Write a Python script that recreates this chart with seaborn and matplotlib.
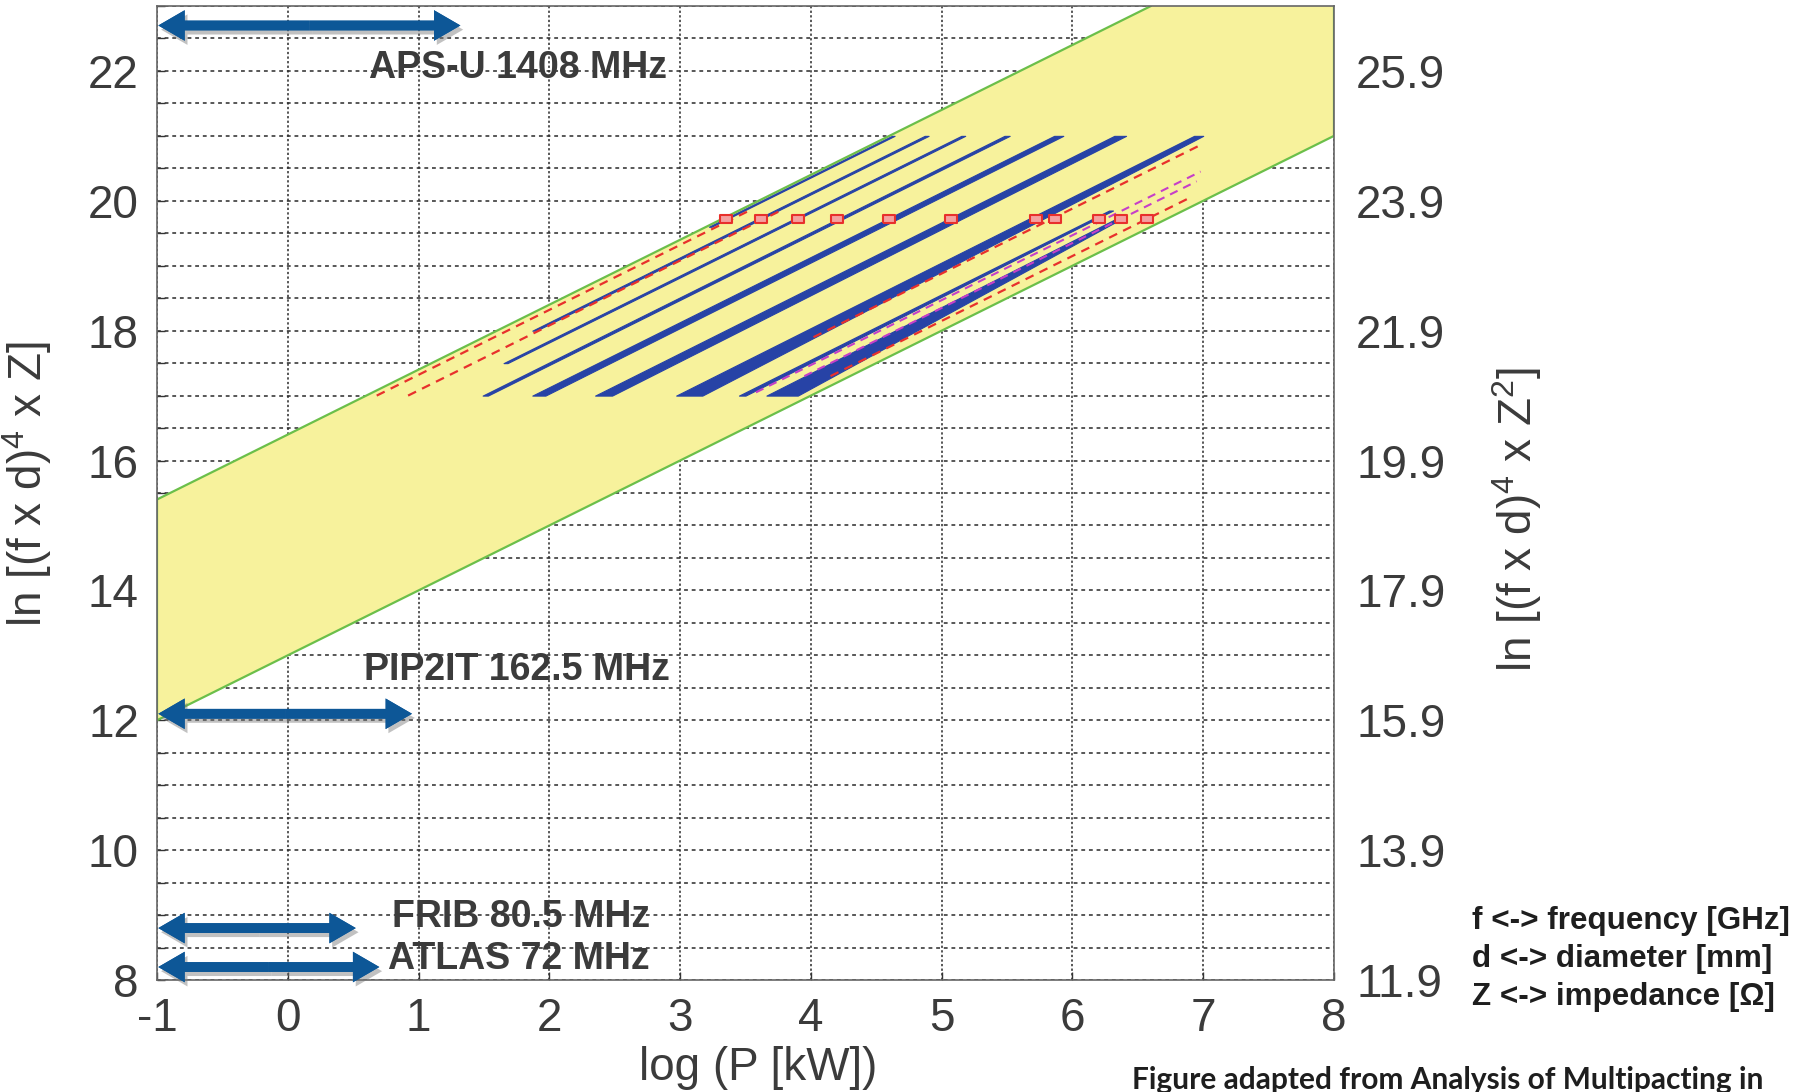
import numpy as np
import pandas as pd
import matplotlib
matplotlib.use("Agg")
import matplotlib.pyplot as plt
import matplotlib.patheffects as pe
from matplotlib import font_manager
from matplotlib.font_manager import FontProperties
import seaborn as sns

# ---------------- data ----------------
x_ticks = [-1, 0, 1, 2, 3, 4, 5, 6, 7, 8]
y_left_ticks = [8, 10, 12, 14, 16, 18, 20, 22]
y_right_labels = ["11.9", "13.9", "15.9", "17.9", "19.9", "21.9", "23.9", "25.9"]
right_offset = 3.9

# yellow accessible band (parallelogram)
band_x = [-1.0, 6.6, 8.0]
band_low = [12.0, 19.6, 21.0]
band_high = [15.4, 23.0, 23.0]

# blue multipacting bands: y start/end and left/right x at each end
blue_y0 = [19.6, 18.0, 17.5, 17.0, 17.0, 17.0, 17.0, 17.0, 17.0]
blue_y1 = [21.0, 21.0, 21.0, 21.0, 21.0, 21.0, 21.0, 19.85, 19.75]
blue_xl0 = [3.22, 1.87, 1.65, 1.49, 1.87, 2.35, 2.97, 3.45, 3.66]
blue_xr0 = [3.24, 1.90, 1.68, 1.53, 1.97, 2.48, 3.17, 3.50, 3.90]
blue_xl1 = [4.62, 4.87, 5.15, 5.48, 5.86, 6.32, 6.93, 6.28, 6.36]
blue_xr1 = [4.64, 4.90, 5.18, 5.52, 5.93, 6.41, 7.00, 6.31, 6.40]

# red dashed lines (start/end points)
red_x0 = [0.68, 0.92, 4.02, 4.15]
red_y0 = [17.0, 17.0, 17.9, 17.3]
red_x1 = [3.55, 3.77, 6.97, 6.90]
red_y1 = [19.87, 19.85, 20.85, 20.05]

# magenta dashed lines
mag_x0 = [3.58, 3.95]
mag_y0 = [17.05, 17.3]
mag_x1 = [6.98, 6.95]
mag_y1 = [20.45, 20.30]

# red square markers
mark_x = [3.35, 3.62, 3.90, 4.20, 4.60, 5.07, 5.72, 5.87, 6.20, 6.37, 6.57]
mark_y = [19.72] * len(mark_x)

# machines: arrow y, arrow ends x, label text, label x, label y
mach_names = ["APS-U 1408 MHz", "PIP2IT 162.5 MHz", "FRIB 80.5 MHz", "ATLAS 72 MHz"]
arrow_y = [22.7, 12.1, 8.8, 8.2]
arrow_x0 = [-0.99, -0.99, -0.99, -0.99]
arrow_x1 = [1.32, 0.95, 0.52, 0.70]
label_x = [0.62, 0.58, 0.80, 0.77]
label_y = [22.05, 12.77, 8.97, 8.33]

legend_lines = ["f <-> frequency [GHz]", "d <-> diameter [mm]", "Z <-> impedance [Ω]"]

# ---------------- style ----------------
sns.set_theme(style="white")
plt.rcParams["font.family"] = ["Liberation Sans", "DejaVu Sans"]
plt.rcParams["mathtext.fontset"] = "custom"
plt.rcParams["mathtext.rm"] = "Liberation Sans"
plt.rcParams["mathtext.default"] = "rm"

try:
    font_manager.findfont(FontProperties(family="Liberation Sans Narrow", weight="bold"),
                          fallback_to_default=False)
    lab_family, lab_size = ["Liberation Sans Narrow", "Liberation Sans"], 31
except Exception:
    lab_family, lab_size = ["Liberation Sans"], 27

W, H = 1798, 1092
fig = plt.figure(figsize=(W / 100, H / 100), dpi=100)
ax = fig.add_axes([157 / W, 1 - 980 / H, (1334 - 157) / W, (980 - 6) / H])

TXT = "#3b3b3b"
YELLOW = "#f7f29c"
GREEN = "#6bbf4a"
BLUE = "#2743a6"
RED = "#e8302c"
MAG = "#c63fc8"
ARROW = "#0d5797"

# yellow band
ax.fill_between(band_x, band_low, band_high, facecolor=YELLOW, edgecolor="none", zorder=1)
edge = pd.DataFrame({"x": [-1.0, -1.0] + band_x[:2], "y": [band_low[0], band_high[0]] + band_high[:2]})
sns.lineplot(data=edge, x="x", y="y", sort=False, estimator=None, color=GREEN, lw=1.6, ax=ax, zorder=1.2)
low = pd.DataFrame({"x": band_x, "y": band_low})
sns.lineplot(data=low, x="x", y="y", sort=False, estimator=None, color=GREEN, lw=1.6, ax=ax, zorder=1.2)
ax.plot([band_x[-1], band_x[-1]], [band_low[-1], band_high[-1]], color=GREEN, lw=1.6, zorder=1.2)

# blue bands
for y0, y1, xl0, xr0, xl1, xr1 in zip(blue_y0, blue_y1, blue_xl0, blue_xr0, blue_xl1, blue_xr1):
    ax.fill_betweenx([y0, y1], [xl0, xl1], [xr0, xr1], facecolor=BLUE, edgecolor=BLUE,
                     lw=0.8, zorder=3)

# dashed lines
for x0, y0, x1, y1 in zip(red_x0, red_y0, red_x1, red_y1):
    sns.lineplot(x=[x0, x1], y=[y0, y1], estimator=None, color=RED, lw=1.6, ax=ax, zorder=4,
                 dashes=False).lines[-1].set_dashes((4, 3))
for x0, y0, x1, y1 in zip(mag_x0, mag_y0, mag_x1, mag_y1):
    sns.lineplot(x=[x0, x1], y=[y0, y1], estimator=None, color=MAG, lw=1.5, ax=ax, zorder=4,
                 dashes=False).lines[-1].set_dashes((4, 3))

rect = [(-1.6, -1), (1.6, -1), (1.6, 1), (-1.6, 1), (-1.6, -1)]
sns.scatterplot(x=mark_x, y=mark_y, marker=rect, s=85, facecolor="#f4a0a0",
                edgecolor=RED, linewidth=1.5, ax=ax, zorder=5)

# arrows
shadow = [pe.withSimplePatchShadow(offset=(2, -3), shadow_rgbFace="#777777", alpha=0.45), pe.Normal()]
for y, x0, x1 in zip(arrow_y, arrow_x0, arrow_x1):
    xm = (x0 + x1) / 2
    for xe in (x0, x1):
        a = ax.annotate("", xy=(xe, y), xytext=(xm, y),
                        arrowprops=dict(arrowstyle="simple,head_length=0.95,head_width=1.1,tail_width=0.35",
                                        mutation_scale=20, color=ARROW, lw=0,
                                        shrinkA=0, shrinkB=0), zorder=6)
        a.arrow_patch.set_path_effects(shadow)

for t, lx, ly in zip(mach_names, label_x, label_y):
    ax.text(lx, ly, t, family=lab_family, fontsize=lab_size, fontweight="bold",
            color=TXT, ha="left", va="center", zorder=7)

# axes, ticks, grid
ax.set_xlim(-1, 8)
ax.set_ylim(8, 23)
ax.set_xticks(x_ticks)
ax.set_yticks(y_left_ticks)
ax.set_yticks(np.arange(8, 23.01, 0.5), minor=True)
ax.set_xticklabels([str(v) for v in x_ticks])
ax.set_yticklabels([str(v) for v in y_left_ticks])
ax.grid(True, which="major", axis="x", color="#2a2a2a", linestyle=(0, (1.5, 1.5)), lw=1.1)
ax.grid(True, which="both", axis="y", color="#2a2a2a", linestyle=(0, (2.5, 2.5)), lw=1.1)
ax.tick_params(axis="both", which="both", direction="in", length=6, width=1, color="#333333",
               labelsize=33, labelcolor=TXT, left=True, right=True, bottom=True, top=False)
ax.tick_params(axis="y", which="major", pad=13)
ax.tick_params(axis="x", which="major", pad=12)
for s in ax.spines.values():
    s.set_color("#666666")
    s.set_linewidth(1.2)

ax.set_xlabel("log (P [kW])", fontsize=33, color=TXT)
ax.xaxis.set_label_coords(0.5106, -0.068)
ax.set_ylabel(r"ln [(f x d)$^4$ x Z]", fontsize=33, color=TXT)
ax.yaxis.set_label_coords(-0.0875, 0.509)

ax2 = ax.twinx()
ax2.set_ylim(8 + right_offset, 23 + right_offset)
ax2.set_yticks([v + right_offset for v in y_left_ticks])
ax2.set_yticklabels(y_right_labels)
ax2.tick_params(axis="y", length=0, pad=16, labelsize=33, labelcolor=TXT)
ax2.grid(False)
for s in ax2.spines.values():
    s.set_visible(False)
ax2.set_ylabel(r"ln [(f x d)$^4$ x Z$^2$]", fontsize=33, color=TXT)
ax2.yaxis.set_label_coords(1.133, 0.473)

# side legend text
for t, yp in zip(legend_lines, [921, 959, 996.5]):
    fig.text(1472 / W, 1 - yp / H, t, fontsize=22.6, fontweight="bold", color="#1e1e1e",
             ha="left", va="center")

fig.text(1132 / W, 1 - 1066 / H, "Figure adapted from Analysis of Multipacting in",
         family=["Lato", "Liberation Sans"], fontsize=21.5, fontweight="bold", color="#1e1e1e",
         ha="left", va="top")

fig.savefig("out.png", dpi=100)
